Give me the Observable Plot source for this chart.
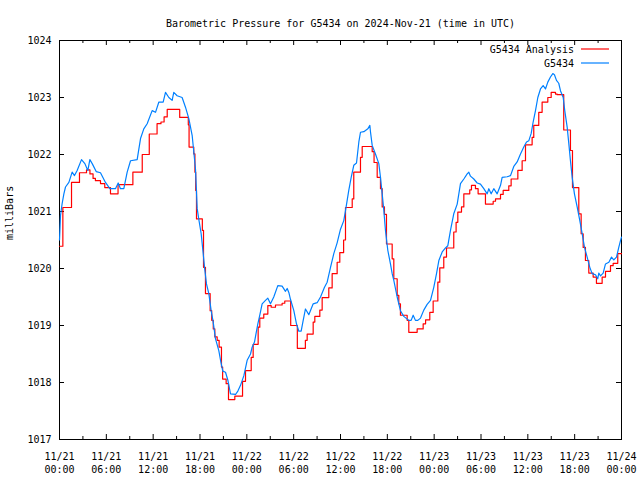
<!DOCTYPE html>
<html><head><meta charset="utf-8">
<script src="https://cdn.jsdelivr.net/npm/d3@7"></script>
<script src="https://cdn.jsdelivr.net/npm/@observablehq/plot@0.6"></script>
<style>body{margin:0;background:#fff} svg{display:block}</style>
</head><body><div id="chart"></div>
<script>
const title = "Barometric Pressure for G5434 on 2024-Nov-21 (time in UTC)";
const yLabel = "milliBars";
const seriesNames = ["G5434 Analysis", "G5434"];
const seriesColors = ["#ff0000", "#0080ff"];
const startTime = "2024-11-21T00:00:00Z";
const spanHours = 72;
const yTicks = [1017, 1018, 1019, 1020, 1021, 1022, 1023, 1024];
const majorTickHours = [0, 6, 12, 18, 24, 30, 36, 42, 48, 54, 60, 66, 72];
const minorTickHours = [3, 9, 15, 21, 27, 33, 39, 45, 51, 57, 63, 69];
const xTickLabels = ["11/21\n00:00", "11/21\n06:00", "11/21\n12:00", "11/21\n18:00",
  "11/22\n00:00", "11/22\n06:00", "11/22\n12:00", "11/22\n18:00",
  "11/23\n00:00", "11/23\n06:00", "11/23\n12:00", "11/23\n18:00", "11/24\n00:00"];

// Analysis (step series): hours since start, pressure
const analysisHours = [0, 0.43, 1.54, 2.56, 3.46, 3.9, 4.3, 4.6, 5.25, 5.8, 6.53, 7.5, 9.4, 10.6, 11.5, 12.5, 13.0, 13.4, 13.8, 15.4, 16.5, 16.6, 17.2, 17.35, 17.45, 17.55, 18.3, 18.45, 18.7, 19.3, 19.5, 19.7, 19.9, 20.2, 20.45, 20.75, 20.9, 21.35, 21.65, 22.46, 23.45, 23.83, 24.56, 24.81, 25.45, 25.66, 26.17, 26.69, 27.12, 27.67, 28.52, 28.86, 29.62, 30.47, 31.5, 31.73, 32.5, 32.71, 33.35, 33.65, 34.5, 34.93, 35.57, 35.91, 36.4, 36.64, 37.5, 37.7, 38.56, 38.78, 40.06, 40.3, 40.7, 41.12, 41.34, 41.63, 41.89, 42.62, 42.83, 43.26, 43.47, 43.68, 44.54, 44.75, 45.82, 46.59, 46.9, 47.44, 47.87, 48.47, 48.72, 49.23, 49.58, 50.51, 50.81, 51.03, 51.5, 51.8, 52.56, 52.78, 53.29, 53.63, 54.57, 55.56, 55.86, 56.5, 56.84, 57.56, 57.86, 58.72, 59.27, 59.7, 60.55, 60.76, 61.4, 61.83, 62.56, 62.99, 63.54, 63.76, 64.6, 65.46, 65.72, 66.53, 66.83, 67.09, 67.38, 67.81, 68.37, 68.79, 69.52, 69.95, 70.59, 70.93, 71.52, 72];
const analysisPressure = [1020.39, 1021.07, 1021.51, 1021.68, 1021.73, 1021.66, 1021.58, 1021.54, 1021.49, 1021.42, 1021.31, 1021.47, 1021.69, 1022.0, 1022.36, 1022.54, 1022.57, 1022.66, 1022.79, 1022.65, 1022.52, 1022.13, 1022.01, 1021.69, 1021.37, 1020.87, 1020.67, 1020.02, 1019.56, 1019.26, 1019.09, 1018.94, 1018.8, 1018.74, 1018.62, 1018.27, 1018.06, 1017.98, 1017.7, 1017.76, 1018.02, 1018.21, 1018.44, 1018.67, 1018.97, 1019.13, 1019.2, 1019.35, 1019.32, 1019.36, 1019.39, 1019.43, 1019.0, 1018.6, 1018.74, 1018.85, 1019.06, 1019.16, 1019.27, 1019.49, 1019.66, 1019.91, 1020.11, 1020.28, 1020.5, 1021.07, 1021.22, 1021.69, 1021.95, 1022.14, 1022.05, 1021.86, 1021.6, 1021.4, 1021.08, 1020.95, 1020.43, 1020.17, 1019.82, 1019.53, 1019.38, 1019.18, 1019.09, 1018.88, 1018.94, 1019.03, 1019.1, 1019.23, 1019.43, 1019.76, 1020.01, 1020.2, 1020.36, 1020.64, 1020.81, 1020.99, 1021.08, 1021.31, 1021.38, 1021.46, 1021.4, 1021.31, 1021.13, 1021.18, 1021.22, 1021.3, 1021.37, 1021.45, 1021.57, 1021.72, 1021.89, 1022.17, 1022.3, 1022.51, 1022.74, 1022.92, 1023.0, 1023.09, 1023.06, 1023.05, 1022.43, 1022.07, 1021.42, 1020.96, 1020.61, 1020.37, 1020.14, 1019.92, 1019.85, 1019.74, 1019.85, 1019.95, 1020.05, 1020.09, 1020.26, 1020.26];

// Station observations: hours since start, pressure
const stationHours = [0, 0.13, 0.34, 0.56, 0.77, 1.2, 1.62, 1.92, 2.26, 2.82, 3.25, 3.63, 3.89, 4.19, 4.7, 5.25, 5.89, 6.45, 7.17, 7.52, 7.81, 8.24, 8.67, 9.1, 9.95, 10.38, 10.8, 11.23, 11.87, 12.3, 12.73, 13.28, 13.58, 14.01, 14.43, 14.64, 15.07, 15.71, 16.14, 16.57, 17.0, 17.42, 17.64, 17.85, 18.15, 18.41, 18.58, 18.83, 19.13, 19.43, 19.69, 19.98, 20.41, 20.63, 20.92, 21.27, 21.57, 21.91, 22.55, 22.85, 23.19, 23.62, 24.04, 24.47, 24.68, 24.98, 25.41, 25.66, 25.96, 26.39, 26.69, 27.03, 27.45, 27.97, 28.52, 28.95, 29.17, 29.38, 29.59, 30.02, 30.36, 30.66, 30.96, 31.22, 31.51, 31.94, 32.5, 33.01, 33.44, 33.95, 34.29, 34.72, 35.14, 35.57, 36.0, 36.42, 36.72, 37.06, 37.37, 37.7, 38.05, 38.35, 38.56, 38.99, 39.5, 39.76, 39.84, 40.06, 40.48, 40.91, 41.12, 41.34, 41.55, 41.76, 42.06, 42.4, 42.62, 42.83, 43.26, 43.68, 44.11, 44.75, 45.05, 45.31, 45.6, 45.9, 46.25, 46.67, 47.1, 47.53, 47.95, 48.3, 48.6, 49.03, 49.45, 49.75, 50.09, 50.51, 50.95, 51.37, 51.8, 52.23, 52.44, 52.65, 53.08, 53.51, 53.93, 54.36, 54.79, 55.0, 55.3, 55.64, 56.07, 56.5, 56.71, 57.35, 57.78, 58.2, 58.63, 59.06, 59.48, 59.83, 60.12, 60.43, 60.68, 60.98, 61.28, 61.62, 61.96, 62.26, 62.56, 62.9, 63.2, 63.41, 63.67, 63.96, 64.18, 64.53, 64.73, 65.04, 65.25, 65.46, 65.68, 65.97, 66.32, 66.66, 66.96, 67.26, 67.6, 67.94, 68.24, 68.67, 68.96, 69.09, 69.31, 69.65, 69.95, 70.38, 70.72, 71.01, 71.36, 71.65, 71.87, 72.0];
const stationPressure = [1020.5, 1020.93, 1021.14, 1021.31, 1021.43, 1021.51, 1021.69, 1021.63, 1021.72, 1021.91, 1021.84, 1021.72, 1021.91, 1021.84, 1021.7, 1021.68, 1021.51, 1021.4, 1021.4, 1021.5, 1021.4, 1021.4, 1021.69, 1021.89, 1021.91, 1022.28, 1022.45, 1022.54, 1022.77, 1022.74, 1022.92, 1022.92, 1023.09, 1023.0, 1022.95, 1023.09, 1023.03, 1023.0, 1022.83, 1022.63, 1022.33, 1021.75, 1021.05, 1020.86, 1020.61, 1020.26, 1020.02, 1019.73, 1019.56, 1019.26, 1019.06, 1018.77, 1018.56, 1018.39, 1018.2, 1018.18, 1018.04, 1017.8, 1017.79, 1017.85, 1017.95, 1018.12, 1018.39, 1018.5, 1018.62, 1018.71, 1019.03, 1019.18, 1019.38, 1019.44, 1019.48, 1019.38, 1019.5, 1019.7, 1019.69, 1019.6, 1019.65, 1019.58, 1019.46, 1019.26, 1019.03, 1018.9, 1018.9, 1019.09, 1019.29, 1019.19, 1019.38, 1019.4, 1019.5, 1019.67, 1019.76, 1020.02, 1020.26, 1020.45, 1020.69, 1020.84, 1021.08, 1021.37, 1021.6, 1021.81, 1021.85, 1022.22, 1022.39, 1022.4, 1022.45, 1022.51, 1022.4, 1022.16, 1022.01, 1021.84, 1021.6, 1021.31, 1021.02, 1020.67, 1020.32, 1020.08, 1019.91, 1019.79, 1019.5, 1019.26, 1019.16, 1019.09, 1019.09, 1019.18, 1019.09, 1019.09, 1019.13, 1019.27, 1019.37, 1019.44, 1019.67, 1019.91, 1020.14, 1020.29, 1020.36, 1020.4, 1020.67, 1020.96, 1021.13, 1021.49, 1021.57, 1021.66, 1021.69, 1021.62, 1021.57, 1021.5, 1021.48, 1021.4, 1021.31, 1021.4, 1021.31, 1021.4, 1021.31, 1021.46, 1021.6, 1021.61, 1021.63, 1021.79, 1021.87, 1022.01, 1022.13, 1022.22, 1022.24, 1022.37, 1022.57, 1022.77, 1023.0, 1023.15, 1023.21, 1023.15, 1023.27, 1023.36, 1023.42, 1023.4, 1023.3, 1023.25, 1023.12, 1023.0, 1022.77, 1022.48, 1022.19, 1021.89, 1021.6, 1021.31, 1021.08, 1020.84, 1020.61, 1020.37, 1020.2, 1020.02, 1019.91, 1019.89, 1019.82, 1019.92, 1019.87, 1019.92, 1020.08, 1020.11, 1020.2, 1020.15, 1020.2, 1020.37, 1020.49, 1020.55];

const t0 = Date.parse(startTime);
const toTime = h => new Date(t0 + h * 3600e3);
const analysis = analysisHours.map((h, i) => ({t: toTime(h), p: analysisPressure[i]}));
const station = stationHours.map((h, i) => ({t: toTime(h), p: stationPressure[i]}));
const majorTicks = majorTickHours.map((h, i) => ({t: toTime(h), label: xTickLabels[i]}));
const minorTicks = minorTickHours.map(toTime);

const W = 640, H = 480, mL = 59, mR = 19, mT = 40, mB = 41;
const pw = W - mL - mR, ph = H - mT - mB;
const font = "'DejaVu Sans Mono', monospace";

const chart = Plot.plot({
  width: W, height: H,
  marginLeft: mL, marginRight: mR, marginTop: mT, marginBottom: mB,
  style: {fontFamily: font, fontSize: "10px", background: "#fff", color: "#000"},
  x: {type: "utc", domain: [toTime(0), toTime(spanHours)], axis: null},
  y: {domain: [yTicks[0], yTicks[yTicks.length - 1]], axis: null},
  marks: [
    Plot.frame({stroke: "#000", strokeWidth: 1}),
    // y ticks (inward, both sides)
    Plot.tickY(yTicks, {y: d => d, stroke: "#000", insetRight: pw - 5}),
    Plot.tickY(yTicks, {y: d => d, stroke: "#000", insetLeft: pw - 5}),
    // x major ticks (inward, bottom and top)
    Plot.tickX(majorTicks, {x: "t", stroke: "#000", insetTop: ph - 5}),
    Plot.tickX(majorTicks, {x: "t", stroke: "#000", insetBottom: ph - 5}),
    Plot.tickX(minorTicks, {x: d => d, stroke: "#000", insetTop: ph - 3}),
    Plot.tickX(minorTicks, {x: d => d, stroke: "#000", insetBottom: ph - 3}),
    // tick labels
    Plot.text(yTicks, {y: d => d, text: d => String(d), frameAnchor: "left", textAnchor: "end", dx: -8, fill: "#000"}),
    Plot.text(majorTicks, {x: "t", text: "label", frameAnchor: "bottom", lineAnchor: "top", dy: 11, lineHeight: 1.3, fill: "#000"}),
    // data
    Plot.line(analysis, {x: "t", y: "p", stroke: seriesColors[0], strokeWidth: 1.2, curve: "step-after"}),
    Plot.line(station, {x: "t", y: "p", stroke: seriesColors[1], strokeWidth: 1.2}),
    // title and y label
    Plot.text([title], {text: d => d, frameAnchor: "top", dy: -21, fill: "#000"}),
    Plot.text([yLabel], {text: d => d, frameAnchor: "left", dx: -50, rotate: -90, fill: "#000"})
  ]
});

// legend (top-right, inside the frame)
const svg = d3.select(chart);
const lg = svg.append("g").attr("font-family", font).attr("font-size", 10);
seriesNames.forEach((name, i) => {
  const y = mT + 9 + i * 14;
  lg.append("text").attr("x", W - mR - 47).attr("y", y + 1).attr("dy", "0.32em")
    .attr("text-anchor", "end").attr("fill", "#000").text(name);
  lg.append("line").attr("x1", W - mR - 40).attr("x2", W - mR - 12)
    .attr("y1", y).attr("y2", y).attr("stroke", seriesColors[i]).attr("stroke-width", 1.2);
});

document.getElementById("chart").appendChild(chart);
</script></body></html>
